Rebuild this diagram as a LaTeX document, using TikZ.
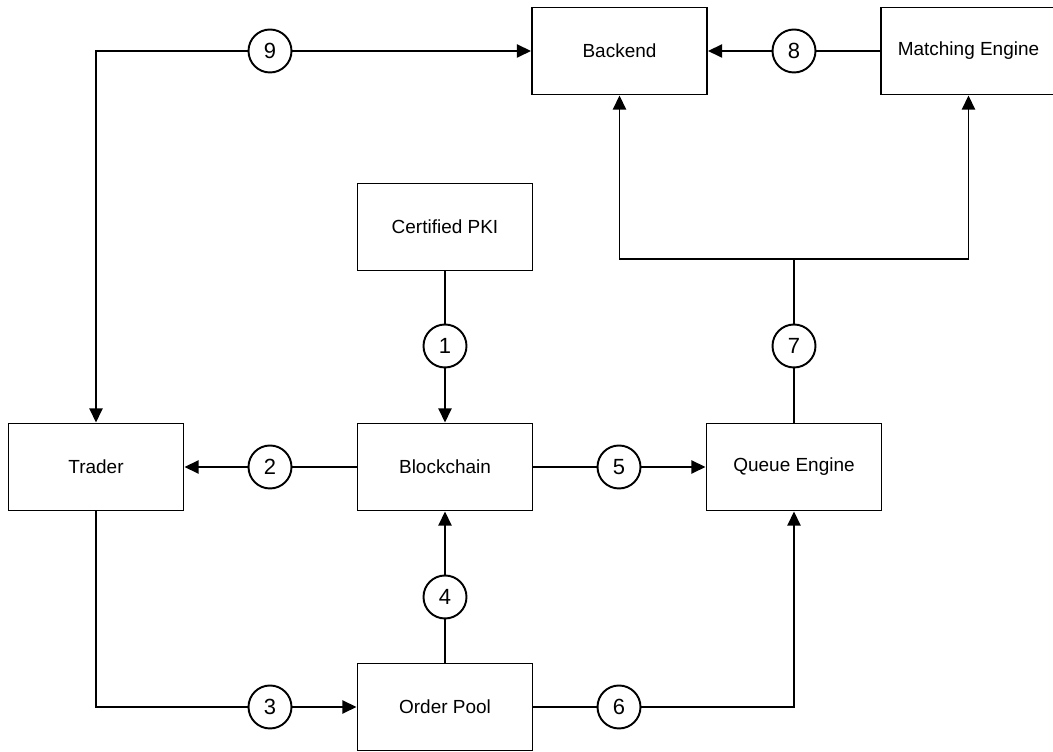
\documentclass[tikz,border=0pt]{standalone}
\usepackage{fontspec}
\setmainfont{Liberation Sans}
\usetikzlibrary{arrows.meta}

\begin{document}
\begin{tikzpicture}[
        box/.style={draw,line width=1.1pt,minimum width=3.5cm,minimum height=1.74cm,font=\fontsize{10.8}{13}\selectfont},
        num/.style={draw,circle,line width=1.1pt,fill=white,minimum size=0.86cm,inner sep=0pt,font=\fontsize{12.5}{14}\selectfont},
        conn/.style={line width=1.1pt},
        arr/.style={line width=1.1pt,-{Triangle[length=8pt,width=7.4pt]}}]
        \useasboundingbox (0,0) rectangle (21.06,15.04);
        % boxes
        \node[box] (trader) at (1.92,5.7) {Trader};
        \node[box] (chain) at (8.9,5.7) {Blockchain};
        \node[box] (queue) at (15.88,5.7) {Queue Engine};
        \node[box] (pki) at (8.9,10.5) {Certified PKI};
        \node[box] (pool) at (8.9,0.9) {Order Pool};
        \node[box] (backend) at (12.39,14.02) {Backend};
        \node[box] (match) at (19.37,14.02) {Matching Engine};
        % numbered steps
        \node[num] (n1) at (8.9,8.12) {1};
        \node[num] (n2) at (5.4,5.7) {2};
        \node[num] (n3) at (5.4,0.9) {3};
        \node[num] (n4) at (8.9,3.1) {4};
        \node[num] (n5) at (12.38,5.7) {5};
        \node[num] (n6) at (12.38,0.9) {6};
        \node[num] (n7) at (15.88,8.12) {7};
        \node[num] (n8) at (15.88,14.02) {8};
        \node[num] (n9) at (5.4,14.02) {9};
        \coordinate (split) at (15.88,9.86);
        % connectors
        \draw[conn] (pki) -- (n1);
        \draw[arr] (n1) -- (chain);
        \draw[conn] (chain) -- (n2);
        \draw[arr] (n2) -- (trader);
        \draw[conn] (trader.south) |- (n3);
        \draw[arr] (n3) -- (pool);
        \draw[conn] (pool) -- (n4);
        \draw[arr] (n4) -- (chain);
        \draw[conn] (chain) -- (n5);
        \draw[arr] (n5) -- (queue);
        \draw[conn] (pool) -- (n6);
        \draw[arr] (n6) -| (queue.south);
        \draw[conn] (queue) -- (n7) -- (split);
        \draw[arr] (split) -| (backend.south);
        \draw[arr] (split) -| (match.south);
        \draw[conn] (match) -- (n8);
        \draw[arr] (n8) -- (backend);
        \draw[arr] (n9) -| (trader.north);
        \draw[arr] (n9) -- (backend);
\end{tikzpicture}
\end{document}
